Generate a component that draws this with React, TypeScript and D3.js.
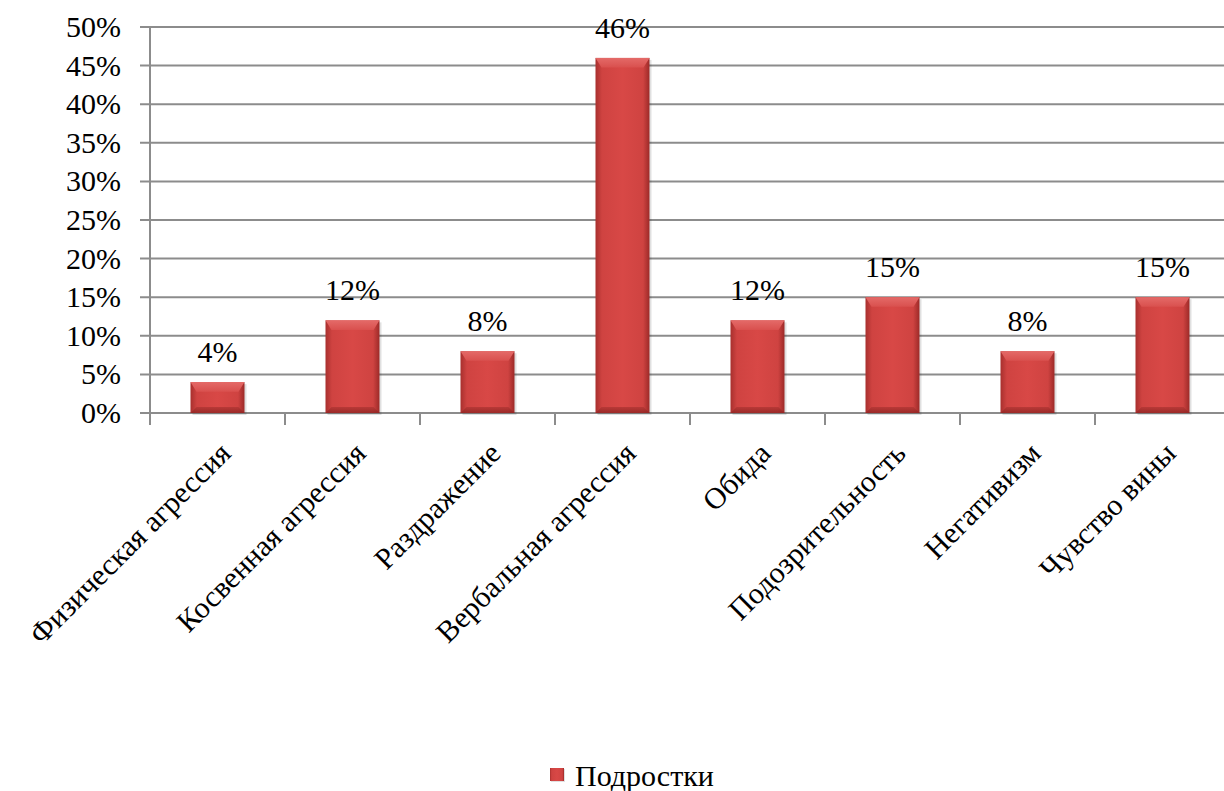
import React from "react";
import * as d3 from "d3";

const categories = [
  "Физическая агрессия",
  "Косвенная агрессия",
  "Раздражение",
  "Вербальная агрессия",
  "Обида",
  "Подозрительность",
  "Негативизм",
  "Чувство вины",
];
const values = [4, 12, 8, 46, 12, 15, 8, 15];
const yTicks = [0, 5, 10, 15, 20, 25, 30, 35, 40, 45, 50];
const seriesName = "Подростки";

const W = 1224;
const H = 791;
const left = 150;
const right = 1230;
const top = 27;
const bottom = 413;
const fs = 30;

export default function App() {
  const x = d3.scaleBand<string>().domain(categories).range([left, right]).paddingInner(0.6).paddingOuter(0.3);
  const xb = d3.scaleBand<string>().domain(categories).range([left, right]);
  const y = d3.scaleLinear().domain([0, 50]).range([bottom, top]);
  const bw = x.bandwidth();
  const bev = 6;
  const st = { fontFamily: "Liberation Serif", fontSize: fs };
  return (
    <div style={{ position: "absolute", left: 0, top: 0 }}>
      <svg width={W} height={H} lang="ru">
        <defs>
          <linearGradient id="face" x1="0" x2="1" y1="0" y2="0">
            <stop offset="0" stopColor="#a8302e" />
            <stop offset="0.12" stopColor="#cf4341" />
            <stop offset="0.5" stopColor="#d84846" />
            <stop offset="0.88" stopColor="#cf4341" />
            <stop offset="1" stopColor="#9c2a28" />
          </linearGradient>
          <linearGradient id="topb" x1="0" x2="0" y1="0" y2="1">
            <stop offset="0" stopColor="#e46a68" />
            <stop offset="1" stopColor="#d9504e" />
          </linearGradient>
          <linearGradient id="botb" x1="0" x2="0" y1="0" y2="1">
            <stop offset="0" stopColor="#b13634" />
            <stop offset="1" stopColor="#8e2422" />
          </linearGradient>
        </defs>
        {yTicks.map((t) => (
          <g key={t}>
            <line x1={140} x2={W} y1={y(t)} y2={y(t)} stroke="#8c8c8c" strokeWidth={2} />
            <text x={121} y={y(t)} dy="0.33em" textAnchor="end" style={st}>
              {t + "%"}
            </text>
          </g>
        ))}
        <line x1={left} x2={left} y1={top} y2={bottom + 12} stroke="#8c8c8c" strokeWidth={2} />
        {categories.slice(1).map((c) => (
          <line key={c} x1={xb(c)!} x2={xb(c)!} y1={bottom} y2={bottom + 12} stroke="#8c8c8c" strokeWidth={2} />
        ))}
        {categories.map((c, i) => {
          const x0 = x(c)!;
          const y0 = y(values[i]);
          const h = bottom - y0;
          const b = Math.min(bev, h / 3);
          return (
            <g key={c}>
              <rect x={x0 + 2} y={y0 + 2} width={bw} height={h} fill="#000" opacity={0.12} />
              <rect x={x0} y={y0} width={bw} height={h} fill="url(#face)" />
              <polygon points={`${x0},${y0} ${x0 + bw},${y0} ${x0 + bw - b},${y0 + b * 1.6} ${x0 + b},${y0 + b * 1.6}`} fill="url(#topb)" />
              <polygon points={`${x0},${bottom} ${x0 + bw},${bottom} ${x0 + bw - b},${bottom - b} ${x0 + b},${bottom - b}`} fill="url(#botb)" opacity={0.8} />
              <text x={x0 + bw / 2} y={y0 - 20} textAnchor="middle" style={st}>
                {values[i] + "%"}
              </text>
              <text
                transform={`translate(${xb(c)! + xb.bandwidth() / 2 + 15},${bottom + 42}) rotate(-45)`}
                textAnchor="end"
                style={st}
              >
                {c}
              </text>
            </g>
          );
        })}
        <rect x={551} y={769} width={14} height={13} fill="#000" opacity={0.12} />
        <rect x={550} y={768} width={14} height={13} fill="url(#face)" />
        <text x={575} y={786} style={st}>{seriesName}</text>
      </svg>
    </div>
  );
}
